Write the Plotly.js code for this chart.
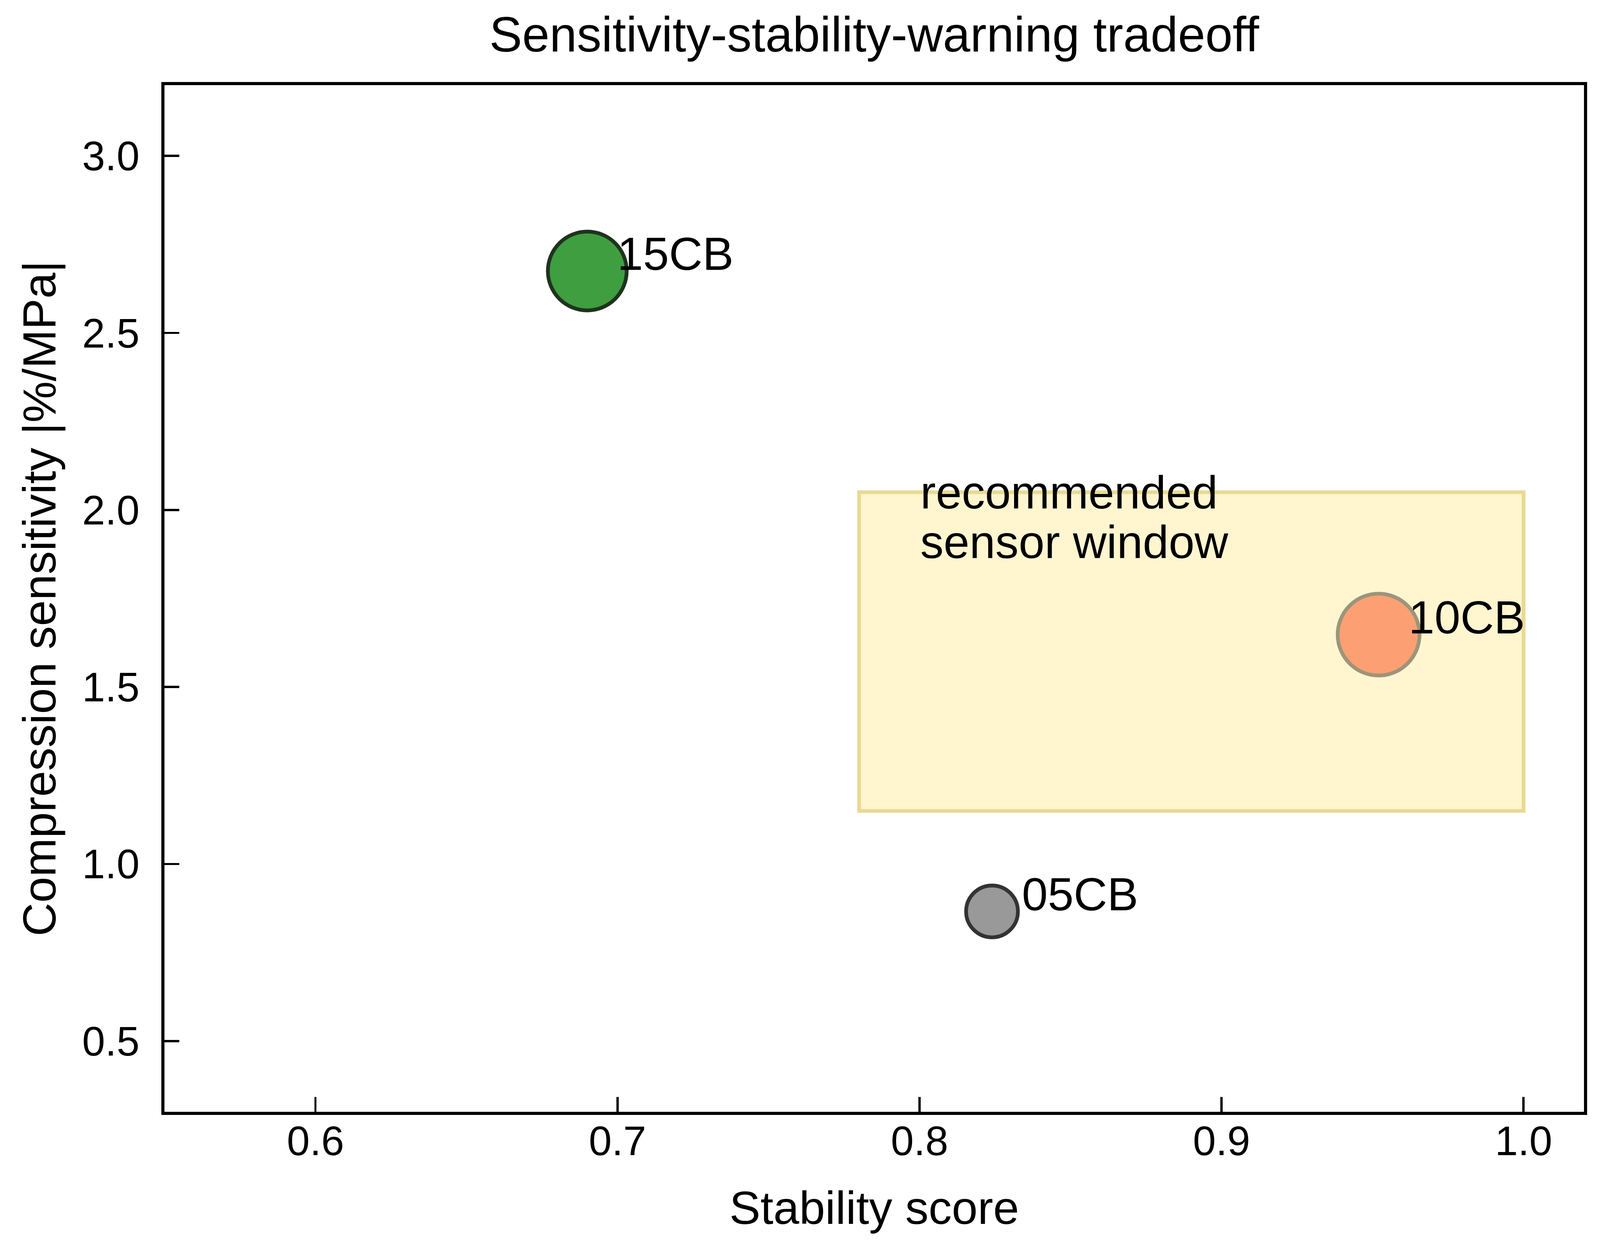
<!DOCTYPE html>
<html>
<head>
<meta charset="utf-8">
<script src="https://cdn.plot.ly/plotly-3.1.0.min.js"></script>
<style>
	html, body { margin: 0; padding: 0; background: #fff; overflow: hidden; }
</style>
</head>
<body>
<div id="chart"></div>
<script>
// composites: stability score vs compression sensitivity
const names = ['15CB', '10CB', '05CB']
const stability = [0.690, 0.952, 0.824]
const sensitivity = [2.675, 1.648, 0.866]
const bubbleSizes = [210, 218, 138]
const fillColors = ['#3f9e40', '#fca073', '#999999']
const edgeColors = ['#1f331f', '#9c957a', '#333333']

// recommended window
const windowX = [0.78, 1.0]
const windowY = [1.15, 2.05]
const windowLines = ['recommended', 'sensor window']
const windowTextAt = [0.80, 1.98]

const xTicks = [0.6, 0.7, 0.8, 0.9, 1.0]
const yTicks = [0.5, 1.0, 1.5, 2.0, 2.5, 3.0]

const FONT = 'Liberation Sans, Arial, Helvetica, sans-serif'

// designed for 4263x3206, fit to whatever the window really is
const W = document.documentElement.clientWidth || window.innerWidth || 4263
const H = window.innerHeight || 3206
const sx = W / 4263
const sy = H / 3206
const s = Math.min(sx, sy)

const trace = {
	x: stability,
	y: sensitivity,
	mode: 'markers',
	type: 'scatter',
	marker: {
		size: bubbleSizes.map(v => v * s),
		color: fillColors,
		line: { color: edgeColors, width: 10 * s },
		opacity: 1,
	},
	hoverinfo: 'skip',
	showlegend: false,
}

const labels = names.map((n, i) => ({
	x: stability[i],
	y: sensitivity[i],
	xref: 'x', yref: 'y',
	text: n,
	showarrow: false,
	xanchor: 'left',
	yanchor: 'middle',
	xshift: 78 * s,
	yshift: 46 * s,
	font: { family: FONT, size: 124 * s, color: '#000' },
}))

// two lines placed separately, matplotlib packs them tighter than plotly
const lineGap = 132
const windowLabels = windowLines.map((t, i) => ({
	x: windowTextAt[0], y: windowTextAt[1],
	xref: 'x', yref: 'y',
	text: t,
	showarrow: false,
	xanchor: 'left',
	yanchor: 'middle',
	yshift: (windowLines.length - 1 - 2 * i) * lineGap / 2 * s,
	font: { family: FONT, size: 124 * s, color: '#000' },
}))

const axisCommon = {
	showgrid: false,
	zeroline: false,
	showline: true,
	mirror: true,
	linecolor: '#000',
	linewidth: 8 * s,
	ticks: 'inside',
	ticklen: 40 * s,
	tickwidth: 6 * s,
	tickcolor: '#000',
	tickfont: { family: FONT, size: 110 * s, color: '#000' },
}

const layout = {
	width: W,
	height: H,
	paper_bgcolor: '#fff',
	plot_bgcolor: '#fff',
	margin: { l: 438 * sx, r: 43 * sx, t: 218 * sy, b: 359 * sy },
	title: {
		text: 'Sensitivity-stability-warning tradeoff',
		font: { family: FONT, size: 131 * s, color: '#000' },
		xref: 'paper', x: 0.5, xanchor: 'center',
		y: 1 - 88 / 3206, yanchor: 'middle',
	},
	xaxis: {
		...axisCommon,
		range: [0.55, 1.02],
		tickvals: xTicks,
		ticktext: xTicks.map(v => v.toFixed(1)),
		ticklabelstandoff: Math.round(-25 * s),
		title: { text: 'Stability score', font: { family: FONT, size: 124 * s, color: '#000' }, standoff: 78 * s },
	},
	yaxis: {
		...axisCommon,
		range: [0.3, 3.2],
		tickvals: yTicks,
		ticktext: yTicks.map(v => v.toFixed(1)),
		ticklabelstandoff: Math.round(36 * s),
		title: { text: 'Compression sensitivity |%/MPa|', font: { family: FONT, size: 124 * s, color: '#000' }, standoff: 32 * s },
	},
	shapes: [{
		type: 'rect',
		xref: 'x', yref: 'y',
		x0: windowX[0], x1: windowX[1],
		y0: windowY[0], y1: windowY[1],
		fillcolor: '#fff6d0',
		line: { color: '#e9d993', width: 10 * s },
		layer: 'below',
	}],
	annotations: [...labels, ...windowLabels],
}

Plotly.newPlot('chart', [trace], layout, { staticPlot: true })
</script>
</body>
</html>
